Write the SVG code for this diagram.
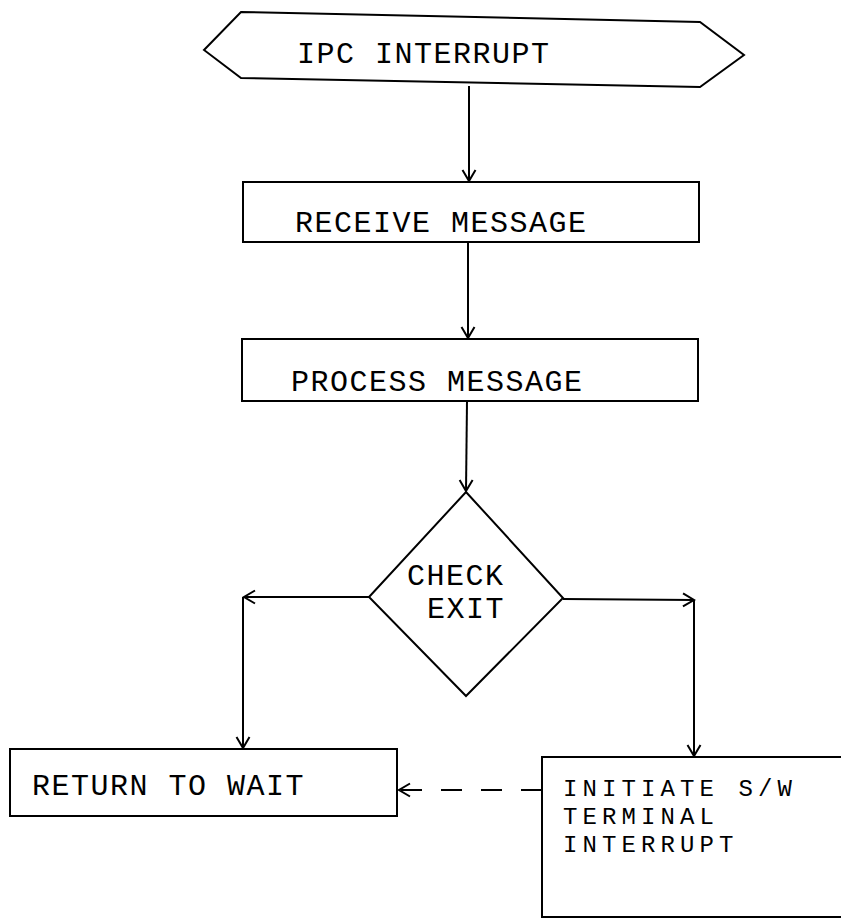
<svg xmlns="http://www.w3.org/2000/svg" width="841" height="921" viewBox="0 0 841 921">
<defs>
<marker id="ah" markerUnits="userSpaceOnUse" markerWidth="16" markerHeight="16" viewBox="0 0 16 16" refX="14" refY="8" orient="auto">
<path d="M3,1.5 L14,8 L3,14.5" fill="none" stroke="#000" stroke-width="2"/>
</marker>
</defs>
<style>
.s{fill:#fff;stroke:#000;stroke-width:2}
.t{font-family:"Liberation Mono","DejaVu Sans Mono",monospace;font-size:30px;letter-spacing:1.5px;fill:#000}
.m{font-size:24px;letter-spacing:5.1px}
.c{fill:none;stroke:#000;stroke-width:2}
.d{stroke-dasharray:21 19}
</style>
<rect width="841" height="921" fill="#fff"/>
<g id="ipc-interrupt">
<polygon class="s" points="204,50 241,12 700,22 744,55 700,87 241,78"/>
<text class="t" x="297" y="63">IPC INTERRUPT</text>
</g>
<g id="receive-message">
<rect class="s" x="243" y="182" width="456" height="60"/>
<text class="t" x="295" y="232">RECEIVE MESSAGE</text>
</g>
<g id="process-message">
<rect class="s" x="242" y="339" width="456" height="62"/>
<text class="t" x="291" y="391">PROCESS MESSAGE</text>
</g>
<g id="check-exit">
<polygon class="s" points="466,492 563,598 466,696 369,597"/>
<text class="t" x="407" y="585">CHECK<tspan x="427" y="618">EXIT</tspan></text>
</g>
<g id="return-to-wait">
<rect class="s" x="10" y="749" width="387" height="67"/>
<text class="t" x="32" y="795">RETURN TO WAIT</text>
</g>
<g id="initiate-sw-terminal-interrupt">
<rect class="s" x="542" y="757" width="320" height="160"/>
<text class="t m" x="563" y="796">INITIATE S/W<tspan x="563" y="824">TERMINAL</tspan><tspan x="563" y="852">INTERRUPT</tspan></text>
</g>
<g id="connectors">
<line class="c" x1="469" y1="86" x2="469" y2="181" marker-end="url(#ah)"/>
<line class="c" x1="468" y1="242" x2="468" y2="338" marker-end="url(#ah)"/>
<line class="c" x1="467" y1="401" x2="466" y2="491" marker-end="url(#ah)"/>
<line class="c" x1="369" y1="597" x2="244" y2="597" marker-end="url(#ah)"/>
<line class="c" x1="243" y1="597" x2="243" y2="748" marker-end="url(#ah)"/>
<line class="c" x1="563" y1="599" x2="694" y2="600" marker-end="url(#ah)"/>
<line class="c" x1="694" y1="600" x2="694" y2="756" marker-end="url(#ah)"/>
<line class="c d" x1="542" y1="790" x2="399" y2="790" marker-end="url(#ah)"/>
</g>
</svg>
